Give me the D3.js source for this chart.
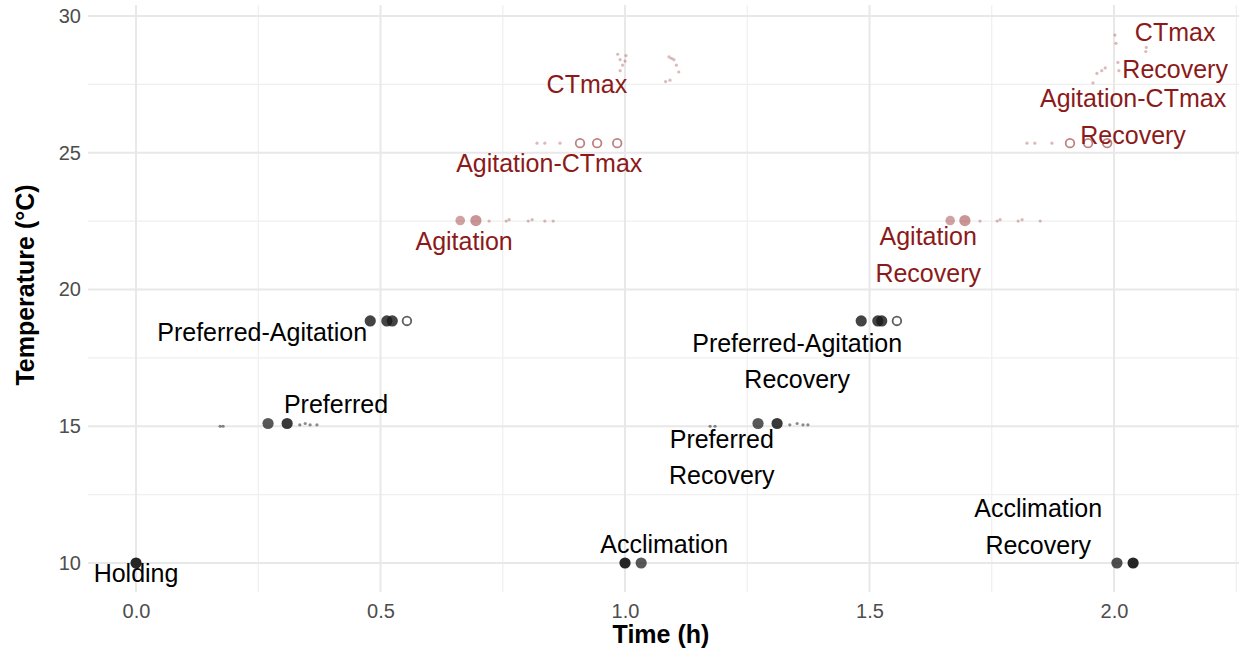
<!DOCTYPE html>
<html><head><meta charset="utf-8">
<script src="https://cdn.jsdelivr.net/npm/d3@7"></script>
<style>body{margin:0;background:#fff}svg{display:block;font-family:"Liberation Sans",Arial,sans-serif}</style>
</head><body><svg id="c" width="1239" height="655"></svg>
<script>
// ---- data ----
const xTicks = [0, 0.5, 1, 1.5, 2];
const xTickLabels = ["0.0", "0.5", "1.0", "1.5", "2.0"];
const yTicks = [10, 15, 20, 25, 30];
const yTickLabels = ["10", "15", "20", "25", "30"];
const xMinor = [0.25, 0.75, 1.25, 1.75, 2.25];
const yMinor = [12.5, 17.5, 22.5, 27.5];

// points: [time (h), temperature (°C), weight, open]
const holding = [[0, 10, 3, 0]];
const acclimation = [[1.0, 10, 3, 0], [1.033, 10, 2, 0]];
const acclimationRec = [[2.006, 10, 2.2, 0], [2.039, 10, 3, 0]];
const preferred = [[0.172, 15.0, 1, 0], [0.178, 15.0, 1, 0], [0.270, 15.1, 2, 0], [0.309, 15.1, 2.6, 0],
  [0.335, 15.05, 1, 0], [0.346, 15.1, 1, 0], [0.356, 15.05, 1, 0], [0.370, 15.05, 1, 0]];
const preferredRec = [[1.174, 15.0, 1, 0], [1.184, 15.0, 1, 0], [1.272, 15.1, 2, 0], [1.311, 15.1, 2.6, 0],
  [1.337, 15.05, 1, 0], [1.352, 15.1, 1, 0], [1.364, 15.05, 1, 0], [1.374, 15.05, 1, 0]];
const prefAgitation = [[0.479, 18.85, 2.4, 0], [0.513, 18.85, 2.4, 0], [0.524, 18.85, 2.4, 0], [0.554, 18.85, 2, 1]];
const prefAgitationRec = [[1.483, 18.85, 2.4, 0], [1.517, 18.85, 2.4, 0], [1.525, 18.85, 2.4, 0], [1.556, 18.85, 2, 1]];
const agitation = [[0.663, 22.52, 1.8, 0], [0.695, 22.52, 2.2, 0], [0.722, 22.5, 1, 0], [0.757, 22.5, 1, 0],
  [0.763, 22.55, 1, 0], [0.802, 22.5, 1, 0], [0.810, 22.55, 1, 0], [0.836, 22.5, 1, 0], [0.853, 22.5, 1, 0]];
const agitationRec = [[1.665, 22.52, 1.8, 0], [1.695, 22.52, 2.2, 0], [1.726, 22.5, 1, 0], [1.761, 22.5, 1, 0],
  [1.767, 22.55, 1, 0], [1.804, 22.5, 1, 0], [1.812, 22.55, 1, 0], [1.849, 22.5, 1, 0]];
const agitCTmax = [[0.820, 25.35, 1, 0], [0.836, 25.35, 1, 0], [0.867, 25.35, 1, 0],
  [0.908, 25.35, 2, 1], [0.943, 25.35, 2, 1], [0.984, 25.35, 2, 1]];
const agitCTmaxRec = [[1.822, 25.35, 1, 0], [1.838, 25.35, 1, 0], [1.873, 25.35, 1, 0],
  [1.910, 25.35, 2, 1], [1.947, 25.35, 2, 1], [1.986, 25.35, 2, 1]];
const ctmax = [[0.985, 28.6, 1, 0], [0.990, 28.4, 1, 0], [0.995, 28.2, 1, 0], [0.990, 28.0, 1, 0],
  [1.000, 28.35, 1, 0], [1.002, 28.55, 1, 0], [1.090, 28.5, 1, 0], [1.095, 28.45, 1, 0], [1.100, 28.4, 1, 0],
  [1.105, 28.2, 1, 0], [1.110, 27.95, 1, 0], [1.083, 27.6, 1, 0], [1.092, 27.65, 1, 0]];
const ctmaxRec = [[2.002, 29.3, 1, 0], [2.004, 29.0, 1, 0], [2.008, 28.3, 1, 0], [2.010, 28.0, 1, 0],
  [1.965, 27.9, 1, 0], [1.975, 28.0, 1, 0], [1.982, 28.1, 1, 0], [1.957, 27.55, 1, 0],
  [2.065, 28.7, 1, 0], [2.066, 28.85, 1, 0]];

const coolStages = [holding, acclimation, acclimationRec, preferred, preferredRec, prefAgitation, prefAgitationRec];
const warmStages = [agitation, agitationRec, agitCTmax, agitCTmaxRec, ctmax, ctmaxRec];

const labelText = ["Holding", "Acclimation", "Acclimation\nRecovery", "Preferred", "Preferred\nRecovery",
  "Preferred-Agitation", "Preferred-Agitation\nRecovery", "Agitation", "Agitation\nRecovery",
  "Agitation-CTmax", "Agitation-CTmax\nRecovery", "CTmax", "CTmax\nRecovery"];
const labelTime = [0, 1.080, 1.845, 0.409, 1.198, 0.258, 1.352, 0.671, 1.620, 0.845, 2.039, 0.922, 2.125];
const labelTemp = [9.60, 10.66, 11.32, 15.78, 13.86, 18.41, 17.37, 21.77, 21.26, 24.59, 26.31, 27.51, 28.72];
const labelWarm = [0, 0, 0, 0, 0, 0, 0, 1, 1, 1, 1, 1, 1];

// ---- drawing ----
const svg = d3.select("#c");
const x = d3.scaleLinear().domain([-0.0982, 2.2556]).range([88, 1239]);
const y = d3.scaleLinear().domain([8.94, 30.4]).range([592, 5]);
const coolCol = "#1a1a1a", warmCol = "#8b1a1a";

const grid = svg.append("g");
grid.selectAll(".vm").data(xMinor).join("line")
  .attr("x1", d => x(d)).attr("x2", d => x(d)).attr("y1", y.range()[1]).attr("y2", y.range()[0])
  .attr("stroke", "#efefef").attr("stroke-width", 1.2);
grid.selectAll(".hm").data(yMinor).join("line")
  .attr("y1", d => y(d)).attr("y2", d => y(d)).attr("x1", 88).attr("x2", 1239)
  .attr("stroke", "#efefef").attr("stroke-width", 1.2);
grid.selectAll(".vM").data(xTicks).join("line")
  .attr("x1", d => x(d)).attr("x2", d => x(d)).attr("y1", y.range()[1]).attr("y2", y.range()[0])
  .attr("stroke", "#e8e8e8").attr("stroke-width", 2);
grid.selectAll(".hM").data(yTicks).join("line")
  .attr("y1", d => y(d)).attr("y2", d => y(d)).attr("x1", 88).attr("x2", 1239)
  .attr("stroke", "#e8e8e8").attr("stroke-width", 2);

const xAxis = svg.append("g").attr("transform", "translate(0,592)")
  .call(d3.axisBottom(x).tickValues(xTicks).tickFormat((d, i) => xTickLabels[i]).tickSize(0).tickPadding(12));
const yAxis = svg.append("g").attr("transform", "translate(88,0)")
  .call(d3.axisLeft(y).tickValues(yTicks).tickFormat((d, i) => yTickLabels[i]).tickSize(0).tickPadding(7));
[xAxis, yAxis].forEach(a => {
  a.select(".domain").remove();
  a.selectAll("text").attr("font-size", 20).attr("fill", "#4d4d4d")
    .attr("font-family", "'Liberation Sans',Arial,sans-serif");
});

svg.append("text").attr("x", 661).attr("y", 643).attr("text-anchor", "middle")
  .attr("font-size", 25).attr("font-weight", "bold").attr("fill", "#000").text("Time (h)");
svg.append("text").attr("transform", "translate(34,285) rotate(-90)").attr("text-anchor", "middle")
  .attr("font-size", 25).attr("font-weight", "bold").attr("fill", "#000").text("Temperature (°C)");

const rScale = d3.scaleLinear().domain([1, 2]).range([1.6, 5.6]).clamp(true);
const aScale = d3.scaleLinear().domain([1, 3]).range([0.5, 0.95]).clamp(true);

function drawPts(stages, col, warm) {
  const pts = stages.flat();
  svg.append("g").selectAll("circle").data(pts).join("circle")
    .attr("cx", d => x(d[0])).attr("cy", d => y(d[1]))
    .attr("r", d => d[3] ? 4.3 : rScale(d[2]))
    .attr("fill", d => d[3] ? "#fff" : col)
    .attr("fill-opacity", d => d[3] ? 1 : (warm ? aScale(d[2]) * 0.6 : aScale(d[2])))
    .attr("stroke", col)
    .attr("stroke-opacity", d => d[3] ? (warm ? 0.55 : 0.7) : 0)
    .attr("stroke-width", 1.8);
}
drawPts(coolStages, coolCol, false);
drawPts(warmStages, warmCol, true);

const lab = svg.append("g").selectAll("text").data(labelText).join("text")
  .attr("text-anchor", "middle")
  .attr("font-size", 25)
  .attr("fill", (d, i) => labelWarm[i] ? warmCol : "#000");
lab.each(function (d, i) {
  const lines = d.split("\n");
  const cx = x(labelTime[i]), cy = y(labelTemp[i]);
  const lh = 36.5;
  const t = d3.select(this);
  lines.forEach((ln, k) => {
    t.append("tspan").attr("x", cx)
      .attr("y", cy + (k - (lines.length - 1) / 2) * lh + 8.5).text(ln);
  });
});
</script></body></html>
